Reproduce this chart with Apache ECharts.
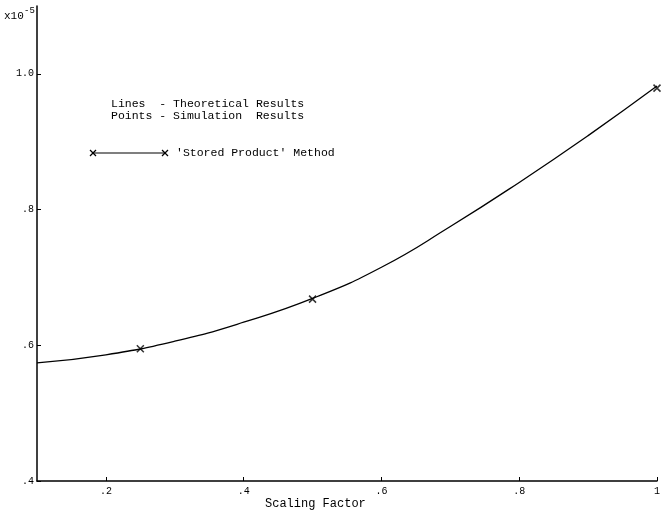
<!DOCTYPE html>
<html>
<head>
<meta charset="utf-8">
<script src="https://cdn.jsdelivr.net/npm/echarts@6/dist/echarts.min.js"></script>
<style>html,body{margin:0;padding:0;background:#fff;}#c{width:663px;height:513px;}</style>
</head>
<body>
<div id="c"></div>
<script>
// Data (values in units of 1e-5)
const scalingFactor = [0.1, 0.2, 0.3, 0.4, 0.5, 0.6, 0.7, 0.8, 0.9, 1.0];
const theoretical   = [0.574, 0.586, 0.606, 0.634, 0.669, 0.715, 0.775, 0.840, 0.909, 0.982];
const simX          = [0.25, 0.5, 1.0];
const simulation    = [0.595, 0.668, 0.979];
const xTicks = [0.2, 0.4, 0.6, 0.8, 1.0];
const xTickLabels = ['.2', '.4', '.6', '.8', '1'];
const yTicks = [0.4, 0.6, 0.8, 1.0];
const yTickLabels = ['.4', '.6', '.8', '1.0'];

const FONT = '"Liberation Mono", "DejaVu Sans Mono", monospace';
const chart = echarts.init(document.getElementById('c'));
const xSym = 'path://M0,0L10,10M10,0L0,10';

function crossAt(cx, cy, r) {
  return [
    { type: 'line', shape: { x1: cx - r, y1: cy - r, x2: cx + r, y2: cy + r }, style: { stroke: '#000', lineWidth: 1.3 } },
    { type: 'line', shape: { x1: cx + r, y1: cy - r, x2: cx - r, y2: cy + r }, style: { stroke: '#000', lineWidth: 1.3 } }
  ];
}

chart.setOption({
  backgroundColor: '#fff',
  animation: false,
  grid: { left: 37, right: 3, top: 6, bottom: 32 },
  xAxis: {
    type: 'value', min: 0.1, max: 1.0,
    splitLine: { show: false },
    axisLine: { lineStyle: { color: '#000', width: 1.5 } },
    axisTick: { inside: true, length: 4, customValues: xTicks, lineStyle: { color: '#000' } },
    axisLabel: {
      customValues: xTicks, margin: 5,
      fontFamily: FONT, fontSize: 10, color: '#000',
      formatter: v => { const i = xTicks.findIndex(t => Math.abs(t - v) < 1e-6); return i >= 0 ? xTickLabels[i] : ''; }
    }
  },
  yAxis: {
    type: 'value', min: 0.4, max: 1.1,
    splitLine: { show: false },
    axisLine: { show: true, lineStyle: { color: '#000', width: 1.5 } },
    axisTick: { show: true, inside: true, length: 4, customValues: yTicks, lineStyle: { color: '#000' } },
    axisLabel: {
      customValues: yTicks, margin: 3,
      fontFamily: FONT, fontSize: 10, color: '#000',
      formatter: v => { const i = yTicks.findIndex(t => Math.abs(t - v) < 1e-6); return i >= 0 ? yTickLabels[i] : ''; }
    }
  },
  series: [
    {
      type: 'line', smooth: true, showSymbol: false,
      lineStyle: { color: '#000', width: 1.3 },
      data: scalingFactor.map((x, i) => [x, theoretical[i]]),
      clip: false
    },
    {
      type: 'scatter', symbol: xSym, symbolSize: 7, clip: false,
      itemStyle: { color: 'none', borderColor: '#000', borderWidth: 1.5 },
      data: simX.map((x, i) => [x, simulation[i]])
    }
  ],
  graphic: [
    { type: 'text', left: 4, top: 11, style: { text: 'x10', font: '11px ' + FONT, fill: '#000' } },
    { type: 'text', left: 24, top: 6, style: { text: '-5', font: '9px ' + FONT, fill: '#000' } },
    { type: 'text', left: 111, top: 98, style: { text: 'Lines  - Theoretical Results', font: '11.5px ' + FONT, fill: '#000' } },
    { type: 'text', left: 111, top: 110, style: { text: 'Points - Simulation  Results', font: '11.5px ' + FONT, fill: '#000' } },
    { type: 'line', shape: { x1: 93, y1: 153, x2: 165, y2: 153 }, style: { stroke: '#000', lineWidth: 1.2 } },
    ...crossAt(93, 153, 3),
    ...crossAt(165, 153, 3),
    { type: 'text', left: 176, top: 147, style: { text: "'Stored Product' Method", font: '11.5px ' + FONT, fill: '#000' } },
    { type: 'text', left: 265, top: 498, style: { text: 'Scaling Factor', font: '12px ' + FONT, fill: '#000' } }
  ]
});
</script>
</body>
</html>
